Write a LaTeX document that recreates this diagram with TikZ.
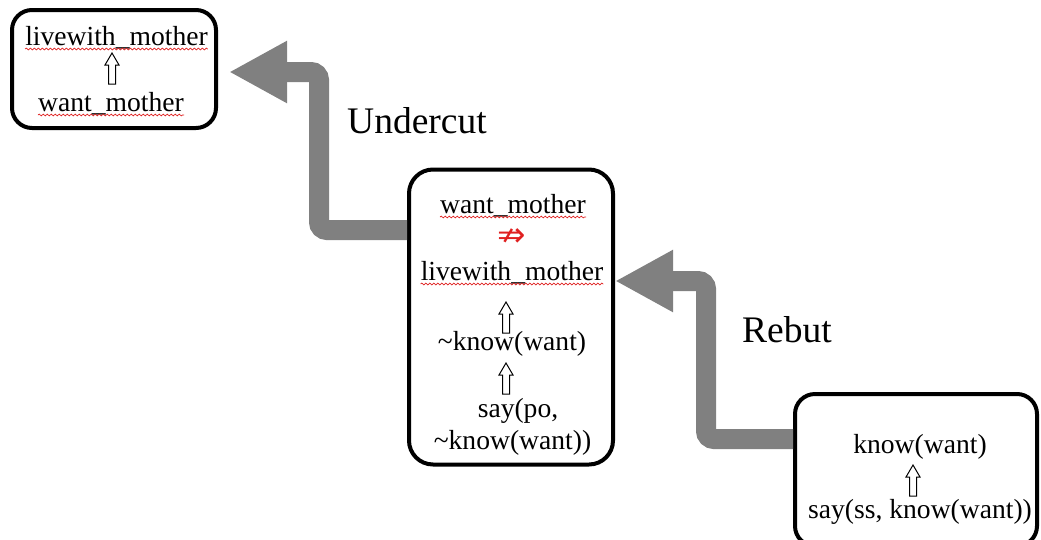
\documentclass[tikz,border=0pt]{standalone}
\usepackage{fontspec}
\setmainfont{Liberation Serif}
\newfontfamily\symfont{DejaVu Sans}
\usetikzlibrary{arrows.meta,decorations.pathmorphing}
\definecolor{arrowgray}{HTML}{808080}
\definecolor{spellred}{HTML}{E02020}
\begin{document}
\begin{tikzpicture}[x=1pt,y=-1pt,
  box/.style={draw,line width=4pt,rounded corners=20pt,fill=white,inner sep=0pt},
  txt/.style={font=\fontsize{27.6}{30}\selectfont,inner sep=0pt,anchor=base},
  lbl/.style={font=\fontsize{37.5}{40}\selectfont,inner sep=0pt,anchor=base west},
  bigarrow/.style={draw=arrowgray,line width=20pt,rounded corners=8pt,-{Triangle[length=58pt,width=58pt,fill=arrowgray]}},
  squig/.style={draw=spellred,line width=0.7pt,decorate,decoration={snake,amplitude=0.9pt,segment length=4pt}},
  uparr/.pic={\draw[fill=white,line width=1pt,line join=miter] (0,0) -- (7,12) -- (3.5,12) -- (3.5,31) -- (-3.5,31) -- (-3.5,12) -- (-7,12) -- cycle;}
]
\useasboundingbox (0,0) rectangle (1041,539);
\clip (0,0) rectangle (1041,539);

% boxes
\node[box,minimum width=204pt,minimum height=118pt] (b1) at (114,69) {};
\node[box,minimum width=204pt,minimum height=295pt,rounded corners=24pt] (b2) at (511,317) {};
\node[box,minimum width=242pt,minimum height=152pt] (b3) at (916,470) {};

% big gray arrows
\coordinate (ucstart) at (b2.west |- 0,230);
\coordinate (rbstart) at (b3.west |- 0,439);
\draw[bigarrow] (ucstart) -| (319,72) -- ([xshift=11pt,yshift=-3pt]b1.east);
\draw[bigarrow] (rbstart) -| (706,281) -- (615,281);

% labels
\node[lbl] (uc) at (347,133) {Undercut};
\node[lbl] (rb) at (742,342) {Rebut};

% box 1
\node[txt] (t11) at (116.5,45) {livewith\_mother};
\pic at (112,53) {uparr};
\node[txt] (t12) at (111,111) {want\_mother};
\draw[squig] ([yshift=-4pt]t11.base west) -- ([yshift=-4pt]t11.base east);
\draw[squig] ([yshift=-4pt]t12.base west) -- ([yshift=-4pt]t12.base east);

% box 2
\node[txt] (t21) at (513,213) {want\_mother};
\node[inner sep=0pt,text=spellred,font=\symfont\fontsize{34}{36}\selectfont] (t22) at (512,238) {⇏};
\node[txt] (t23) at (512,280) {livewith\_mother};
\draw[squig] ([yshift=-4pt]t21.base west) -- ([yshift=-4pt]t21.base east);
\draw[squig] ([yshift=-4pt]t23.base west) -- ([yshift=-4pt]t23.base east);
\pic at (506,302) {uparr};
\node[txt] (t24) at (512,350) {\textasciitilde know(want)};
\pic at (506,363) {uparr};
\node[txt] (t25) at (518,417) {say(po,};
\node[txt] (t26) at (512.5,449) {\textasciitilde know(want))};

% box 3
\node[txt] (t31) at (920,453) {know(want)};
\pic at (913,465) {uparr};
\node[txt] (t32) at (920,518) {say(ss, know(want))};
\end{tikzpicture}
\end{document}
